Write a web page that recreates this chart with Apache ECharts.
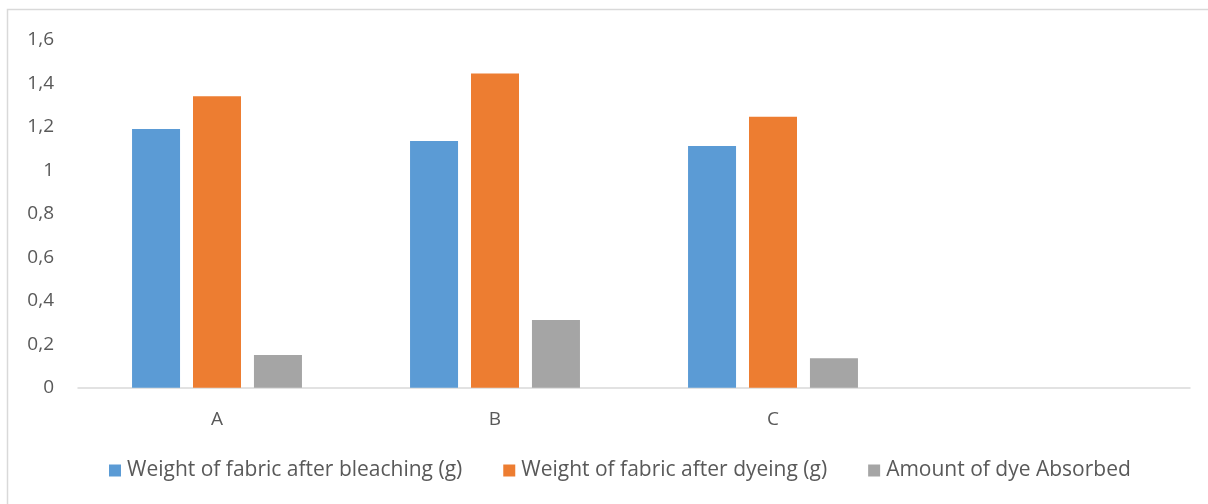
<!DOCTYPE html>
<html>
<head>
<meta charset="utf-8">
<script src="https://cdn.jsdelivr.net/npm/echarts@6/dist/echarts.min.js"></script>
<style>
  html, body { margin: 0; padding: 0; background: #ffffff; }
  #chart { width: 1208px; height: 504px; }
</style>
</head>
<body>
<div id="chart"></div>
<script>
// Samples on the category axis (the trailing blank slot keeps the axis width)
const categories = ['A', 'B', 'C', ''];

// Weights in grams and the dye taken up by each fabric
const afterBleaching = [1.19, 1.134, 1.111];
const afterDyeing = [1.34, 1.445, 1.246];
const dyeAbsorbed = [0.15, 0.311, 0.135];

const seriesNames = [
  'Weight of fabric after bleaching (g)',
  'Weight of fabric after dyeing (g)',
  'Amount of dye Absorbed'
];
const seriesColors = ['#5b9bd5', '#ed7d31', '#a5a5a5'];

const textColor = '#595959';
const fontFamily = '"Open Sans", "Liberation Sans", sans-serif';

const chart = echarts.init(document.getElementById('chart'), null, { renderer: 'canvas' });

const values = [afterBleaching, afterDyeing, dyeAbsorbed];

chart.setOption({
  animation: false,
  backgroundColor: '#ffffff',
  graphic: [{
    type: 'rect',
    shape: { x: 7.5, y: 9.5, width: 1220, height: 520 },
    style: { fill: 'none', stroke: '#d9d9d9', lineWidth: 1.5 },
    silent: true
  }],
  grid: { left: 78, right: 18, top: 39.7, bottom: 116.3, containLabel: false },
  legend: {
    bottom: 18,
    left: 104,
    icon: 'rect',
    itemWidth: 12,
    itemHeight: 12,
    itemGap: 41,
    textStyle: { color: textColor, fontSize: 21, fontFamily: fontFamily, padding: [0, 0, 0, 1] },
    data: seriesNames
  },
  xAxis: {
    type: 'category',
    data: categories,
    axisLine: { lineStyle: { color: '#d9d9d9', width: 1.5 } },
    axisTick: { show: false },
    axisLabel: { color: textColor, fontSize: 19, fontFamily: fontFamily, margin: 22 },
    splitLine: { show: false }
  },
  yAxis: {
    type: 'value',
    min: 0,
    max: 1.6,
    interval: 0.2,
    axisLine: { show: false },
    axisTick: { show: false },
    splitLine: { show: false },
    axisLabel: {
      color: textColor,
      fontSize: 19,
      fontFamily: fontFamily,
      margin: 24,
      formatter: v => String(+v.toFixed(1)).replace('.', ',')
    }
  },
  series: seriesNames.map((name, i) => ({
    name: name,
    type: 'bar',
    data: values[i],
    barWidth: 48,
    barGap: '27%',
    itemStyle: { color: seriesColors[i] }
  }))
});
</script>
</body>
</html>
